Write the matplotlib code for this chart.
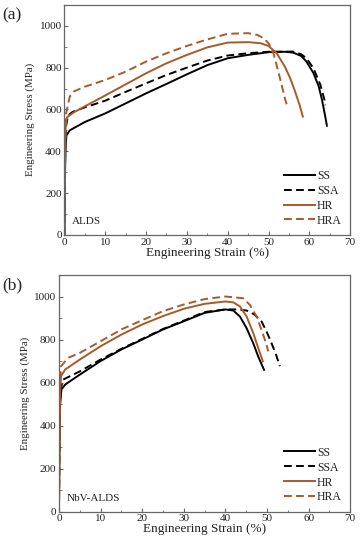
import numpy as np
import matplotlib
matplotlib.use('Agg')
import matplotlib.pyplot as plt
from matplotlib.ticker import MultipleLocator

plt.rcParams['font.family'] = 'Liberation Serif'

# ---- panel (a): ALDS, strain (%) vs stress (MPa)
a_ss_x = [0, 0.1, 0.2, 0.3, 0.5, 1.3, 5, 10, 15, 20, 25, 30, 35, 40, 45, 50, 54, 56,
          58, 59.3, 61, 62.3, 63.1, 63.9, 64.3]
a_ss_y = [0, 200, 350, 430, 476, 500, 540, 581, 629, 677, 722, 768, 812, 845, 861, 874,
          876, 872, 856, 829, 774, 710, 646, 566, 522]
a_ssa_x = [0, 0.1, 0.2, 0.4, 0.9, 2, 5, 10, 15, 20, 25, 30, 35, 40, 45, 50, 56, 58,
           59.3, 61, 62.7, 63.7, 63.9]
a_ssa_y = [0, 250, 420, 520, 572, 588, 610, 642, 684, 725, 765, 800, 834, 858, 869, 876,
           877, 864, 845, 797, 718, 646, 620]
a_hr_x = [0, 0.1, 0.2, 0.3, 0.6, 2.2, 5, 10, 15, 20, 25, 30, 35, 40, 45, 48, 50, 52,
          54, 55.3, 56.5, 57.6, 58.4]
a_hr_y = [0, 250, 420, 515, 562, 585, 615, 667, 720, 773, 821, 861, 897, 920, 922, 917,
          904, 869, 805, 750, 686, 622, 566]
a_hra_x = [0, 0.1, 0.2, 0.4, 1.3, 2.2, 5, 10, 15, 20, 25, 30, 35, 40, 45, 47.2, 48.8,
           50, 51.2, 52.3, 53.3, 54.1, 54.5]
a_hra_y = [0, 260, 450, 580, 661, 685, 709, 741, 781, 829, 869, 904, 935, 962, 965, 957,
           941, 917, 869, 789, 710, 646, 622]

# ---- panel (b): NbV-ALDS
b_ss_x = [0, 0.1, 0.2, 0.3, 0.6, 1.5, 5, 10, 15, 20, 25, 30, 35, 40, 41.9, 43.5, 45.1,
          46.7, 47.9, 49.3]
b_ss_y = [0, 250, 420, 510, 568, 591, 637, 700, 754, 800, 847, 885, 924, 940, 935, 907,
          853, 783, 721, 659]
b_ssa_x = [0, 0.1, 0.2, 0.4, 1.0, 5, 10, 15, 20, 25, 30, 35, 40, 42.7, 45.1, 47.1, 48.7,
           49.9, 51.1, 52.2, 53.1]
b_ssa_y = [0, 280, 460, 570, 614, 652, 707, 757, 803, 849, 888, 928, 940, 940, 935, 915,
           884, 837, 783, 729, 676]
b_hr_x = [0, 0.1, 0.2, 0.3, 0.5, 1.5, 5, 10, 15, 20, 25, 30, 35, 40, 41.9, 43.5, 45.1,
          46.7, 47.9, 49]
b_hr_y = [0, 280, 470, 570, 630, 661, 707, 769, 823, 870, 909, 943, 966, 977, 973, 954,
          908, 830, 761, 699]
b_hra_x = [0, 0.1, 0.2, 0.3, 0.5, 2.2, 5, 10, 15, 20, 25, 30, 35, 40, 44.3, 45.9, 47.5,
           48.7, 49.9, 50.3]
b_hra_y = [0, 300, 500, 610, 676, 715, 738, 792, 847, 890, 932, 963, 988, 1000, 992, 961,
           907, 845, 776, 745]

labels = ['SS', 'SSA', 'HR', 'HRA']
brown = '#a85a2a'
colors = ['black', 'black', brown, brown]
dash = (0, (4, 2.2))
styles = ['-', dash, '-', dash]
spine_c = '#666666'
txt_c = '#222222'

fig = plt.figure(figsize=(3.64, 5.5), dpi=100)
ax1 = fig.add_axes([0.177, 0.573, 0.785, 0.418])
ax2 = fig.add_axes([0.162, 0.0696, 0.800, 0.4304])

panels = [
    (ax1, [(a_ss_x, a_ss_y), (a_ssa_x, a_ssa_y), (a_hr_x, a_hr_y), (a_hra_x, a_hra_y)], 'ALDS'),
    (ax2, [(b_ss_x, b_ss_y), (b_ssa_x, b_ssa_y), (b_hr_x, b_hr_y), (b_hra_x, b_hra_y)], 'NbV-ALDS'),
]

for ax, series, name in panels:
    for (x, y), lab, c, ls in zip(series, labels, colors, styles):
        ax.plot(x, y, color=c, linestyle=ls, lw=1.4, label=lab, solid_joinstyle='round')
    ax.set_xlim(0, 70)
    ax.set_ylim(0, 1100)
    ax.xaxis.set_major_locator(MultipleLocator(10))
    ax.xaxis.set_minor_locator(MultipleLocator(5))
    ax.yaxis.set_major_locator(MultipleLocator(200))
    ax.yaxis.set_minor_locator(MultipleLocator(100))
    ax.tick_params(which='both', direction='in', colors=spine_c, labelcolor=txt_c,
                   labelsize=8, top=False, right=False)
    ax.tick_params(which='major', length=3, pad=2)
    ax.tick_params(which='minor', length=1.8)
    for s in ax.spines.values():
        s.set_color(spine_c)
        s.set_linewidth(0.9)
    ax.set_xlabel('Engineering Strain (%)', fontsize=9.5, color=txt_c, labelpad=0)
    ax.set_ylabel('Engineering Stress (MPa)', fontsize=7.8, color=txt_c, labelpad=3)
    ax.text(1.8, 50, name, fontsize=8, color=txt_c)
    leg = ax.legend(loc='lower right', frameon=False, fontsize=8.5, handlelength=2.6,
                    labelspacing=0.25, handletextpad=0.2, borderaxespad=0.3)
    for t in leg.get_texts():
        t.set_color(txt_c)

fig.text(0.005, 0.965, '(a)', fontsize=12.5, color=txt_c)
fig.text(0.005, 0.474, '(b)', fontsize=12.5, color=txt_c)

plt.savefig('out.png', dpi=100)
